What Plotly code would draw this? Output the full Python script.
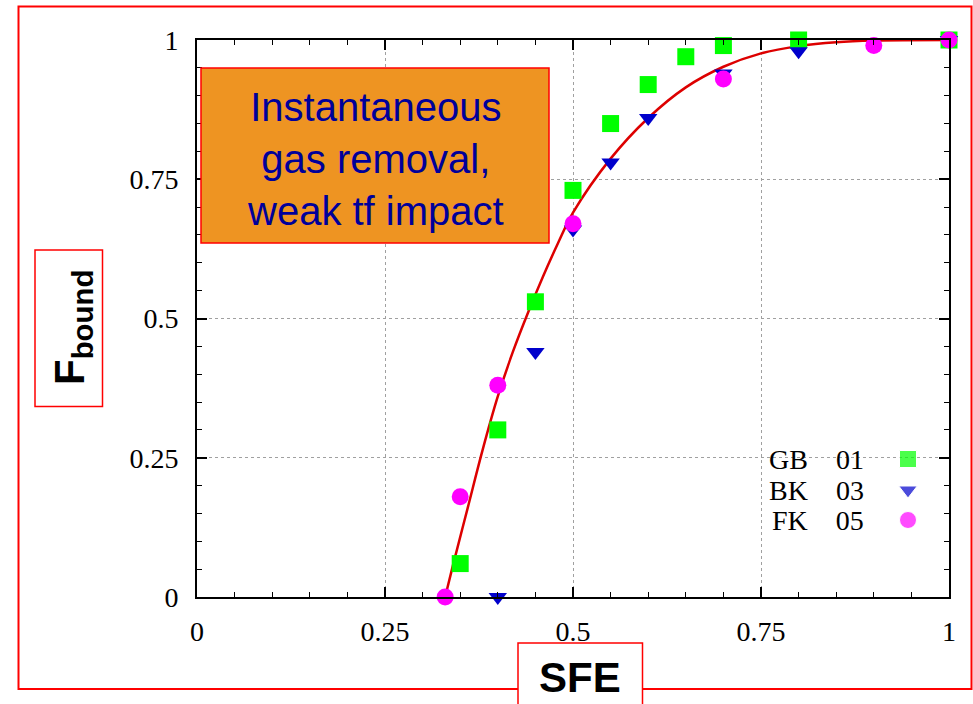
import plotly.graph_objects as go

# ---------------- data ----------------
gb_x = [0.35, 0.40, 0.45, 0.50, 0.55, 0.60, 0.65, 0.70, 0.80, 1.00]
gb_y = [0.06, 0.30, 0.53, 0.73, 0.85, 0.92, 0.97, 0.99, 1.00, 1.00]

bk_x = [0.40, 0.45, 0.50, 0.55, 0.60, 0.70, 0.80, 1.00]
bk_y = [0.00, 0.44, 0.66, 0.78, 0.86, 0.94, 0.98, 1.00]

fk_x = [0.33, 0.35, 0.40, 0.50, 0.70, 0.90, 1.00]
fk_y = [0.00, 0.18, 0.38, 0.67, 0.93, 0.99, 1.00]

fit_x = [0.33, 0.34, 0.36, 0.38, 0.40, 0.42, 0.44, 0.46, 0.48, 0.50,
         0.55, 0.60, 0.65, 0.70, 0.75, 0.80, 0.85, 0.90, 1.00]
fit_y = [0.00, 0.055, 0.16, 0.265, 0.36, 0.44, 0.51, 0.575, 0.635, 0.69,
         0.787, 0.86, 0.915, 0.952, 0.976, 0.989, 0.996, 0.999, 1.00]

tick_vals = [0, 0.25, 0.5, 0.75, 1]
tick_text = ["0", "0.25", "0.5", "0.75", "1"]

legend_names = ["GB    01", "BK    03", "FK    05"]

# ---------------- layout geometry (page pixels) ----------------
W, H = 973, 704
L, R, T, B = 197, 949, 40, 597


def px(xp):
    return (xp - L) / (R - L)


def py(yp):
    return (B - yp) / (B - T)


GREEN = "#00ff00"
BLUE = "#0000cc"
MAGENTA = "#ff00ff"
RED = "#dd0000"
BORDER = "#ff0000"

fig = go.Figure()

fig.add_trace(go.Scatter(x=fit_x, y=fit_y, mode="lines",
                         line=dict(color=RED, width=2.5, shape="spline"),
                         showlegend=False, hoverinfo="skip"))
fig.add_trace(go.Scatter(x=gb_x, y=gb_y, mode="markers", name=legend_names[0],
                         marker=dict(symbol="square", size=17, color=GREEN),
                         showlegend=False, cliponaxis=False))
fig.add_trace(go.Scatter(x=bk_x, y=bk_y, mode="markers", name=legend_names[1],
                         marker=dict(symbol="triangle-down", size=16, color=BLUE),
                         showlegend=False, cliponaxis=False))
fig.add_trace(go.Scatter(x=fk_x, y=fk_y, mode="markers", name=legend_names[2],
                         marker=dict(symbol="circle", size=17, color=MAGENTA),
                         showlegend=False, cliponaxis=False))

# custom legend (text left, symbol right as in the reference)
leg_rows_px = [459, 490, 520]
leg_sym = ["square", "triangle-down", "circle"]
leg_col = [GREEN, BLUE, MAGENTA]
leg_size = [17, 16, 17]
fig.add_trace(go.Scatter(
    x=[0.5] * 3, y=[py(v) for v in leg_rows_px], xaxis="x2", yaxis="y2",
    mode="markers", showlegend=False, hoverinfo="skip",
    marker=dict(symbol=leg_sym, size=leg_size, color=leg_col)))

axis_common = dict(
    range=[0, 1], tickvals=tick_vals, ticktext=tick_text,
    ticks="inside", ticklen=10, tickwidth=1.5, tickcolor="black",
    showline=True, linecolor="black", linewidth=2, mirror="allticks",
    showgrid=True, gridcolor="#a0a0a0", griddash="dot", gridwidth=1,
    zeroline=False,
    tickfont=dict(family="Liberation Serif", size=28, color="black"),
    minor=dict(dtick=0.05, ticks="inside", ticklen=5, tickcolor="black",
               tickwidth=1.2, showgrid=False),
)

fig.update_layout(
    width=W, height=H,
    margin=dict(l=L, r=W - R, t=T, b=H - B, pad=0),
    paper_bgcolor="white", plot_bgcolor="white",
    xaxis=dict(**axis_common, ticklabelstandoff=8),
    yaxis=dict(**axis_common, ticklabelstandoff=11),
    xaxis2=dict(overlaying="x", range=[0.5 - px(908), 1.5 - px(908)],
                visible=False, anchor="y2"),
    yaxis2=dict(overlaying="y", range=[0, 1], visible=False, anchor="x2"),
    showlegend=False,
)

shapes = [
    # outer red frame
    dict(type="rect", xref="paper", yref="paper",
         x0=px(18.5), x1=px(971.5), y0=py(689), y1=py(6.5),
         line=dict(color=BORDER, width=2), fillcolor="rgba(0,0,0,0)",
         layer="below"),
    # orange annotation box
    dict(type="rect", xref="paper", yref="paper",
         x0=px(201), x1=px(549), y0=py(243), y1=py(68),
         line=dict(color=BORDER, width=1.5), fillcolor="#ee9422",
         layer="above"),
    # y label box
    dict(type="rect", xref="paper", yref="paper",
         x0=px(35), x1=px(102.5), y0=py(406.5), y1=py(250),
         line=dict(color=BORDER, width=1.5), fillcolor="white",
         layer="above"),
    # x label box
    dict(type="rect", xref="paper", yref="paper",
         x0=px(518), x1=px(642.5), y0=py(712), y1=py(643),
         line=dict(color=BORDER, width=1.5), fillcolor="white",
         layer="above"),
]
fig.update_layout(shapes=shapes)

annotations = [
    dict(xref="paper", yref="paper", x=px(375), y=py(159),
         text="Instantaneous<br>gas removal,<br>weak tf impact",
         showarrow=False, xanchor="center", yanchor="middle",
         font=dict(family="Liberation Sans", size=40, color="#00009a")),
    dict(xref="paper", yref="paper", x=px(72), y=py(328),
         text="<b>F<sub>bound</sub></b>", textangle=-90,
         showarrow=False, xanchor="center", yanchor="middle",
         font=dict(family="Liberation Sans", size=42, color="black")),
    dict(xref="paper", yref="paper", x=px(580), y=py(677),
         text="<b>SFE</b>",
         showarrow=False, xanchor="center", yanchor="middle",
         font=dict(family="Liberation Sans", size=42, color="black")),
]
for name, yp in zip(legend_names, leg_rows_px):
    annotations.append(dict(
        xref="paper", yref="paper", x=px(866), y=py(yp),
        text=name.replace(" ", "&nbsp;"), showarrow=False,
        xanchor="right", yanchor="middle",
        font=dict(family="Liberation Serif", size=28, color="black")))
fig.update_layout(annotations=annotations)

fig.write_html(
    "out.html",
    config={"displayModeBar": False},
    post_script="document.body.style.margin='0';document.body.style.overflow='hidden';",
)
